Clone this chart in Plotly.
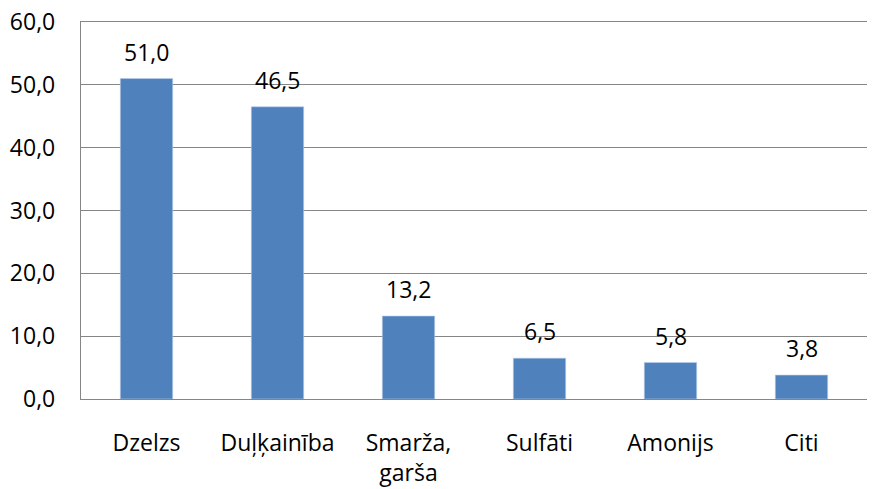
import plotly.graph_objects as go

categories = ["Dzelzs", "Duļķainība", "Smarža,<br>garša", "Sulfāti", "Amonijs", "Citi"]
values = [51.0, 46.5, 13.2, 6.5, 5.8, 3.8]
y_ticks = [0, 10, 20, 30, 40, 50, 60]

FONT = "Open Sans"
fig = go.Figure()
fig.add_trace(go.Bar(
    x=categories, y=values,
    marker=dict(color="#4F81BD", line=dict(color="#B9CDE5", width=0.6)),
    width=0.4,
))
for c, v in zip(categories, values):
    fig.add_annotation(x=c, y=v, text=f"{v:.1f}".replace(".", ","), showarrow=False,
                       yanchor="bottom", yshift=9,
                       font=dict(family=FONT, size=23, color="#000000"))

fig.update_layout(
    width=878, height=489,
    margin=dict(l=81, r=11, t=22, b=90, autoexpand=False),
    plot_bgcolor="white", paper_bgcolor="white",
    separators=",.",
    showlegend=False,
    font=dict(family=FONT, size=23, color="#000000"),
)
fig.update_yaxes(range=[0, 60], tickvals=y_ticks, tickformat=".1f",
                 showgrid=True, gridcolor="#868686", gridwidth=1.3,
                 showline=True, linecolor="#868686", linewidth=1.3,
                 zeroline=False, ticks="", ticklabelstandoff=20,
                 automargin=False,
                 tickfont=dict(family=FONT, size=23))
fig.update_xaxes(showline=True, linecolor="#868686", linewidth=1.3, mirror=True,
                 ticks="", ticklabelstandoff=23, automargin=False,
                 tickfont=dict(family=FONT, size=23))
fig.write_html("out.html", config={"displayModeBar": False},
               post_script="document.body.style.margin='0';document.body.style.overflow='hidden';")
